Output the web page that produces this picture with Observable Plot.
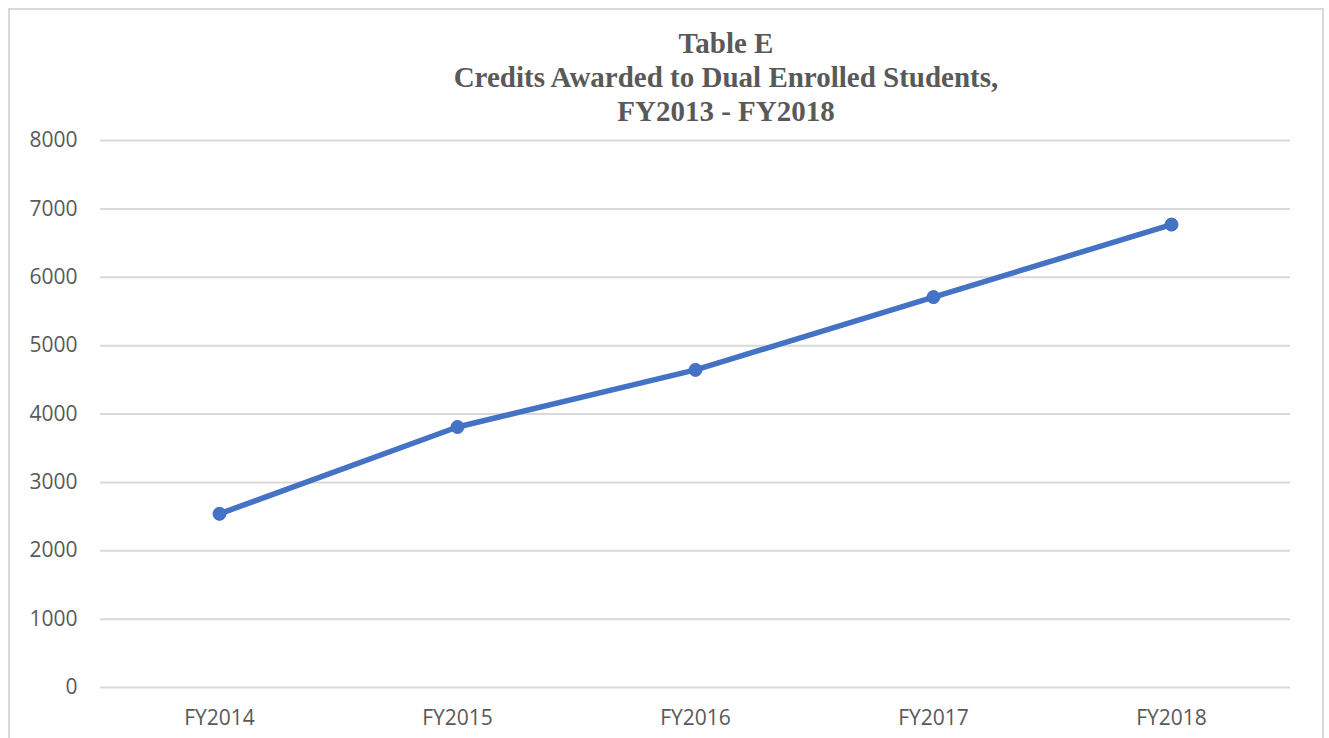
<!DOCTYPE html>
<html>
<head>
<meta charset="utf-8">
<script src="https://cdn.jsdelivr.net/npm/d3@7"></script>
<script src="https://cdn.jsdelivr.net/npm/@observablehq/plot@0.6"></script>
<style>
  html, body { margin: 0; padding: 0; background: #fff; width: 1329px; height: 738px; overflow: hidden; }
  #frame { position: absolute; left: 8px; top: 8px; width: 1316px; height: 760px; border: 2px solid #d9d9d9; box-sizing: border-box; }
  #title { position: absolute; left: 376px; width: 700px; top: 26px; text-align: center;
    font-family: "Liberation Serif", "Times New Roman", serif; font-weight: bold; font-size: 29px;
    line-height: 34px; color: #595959; }
  #chart { position: absolute; left: 0; top: 0; }
</style>
</head>
<body>
<div id="frame"></div>
<div id="chart"></div>
<div id="title">Table E<br>Credits Awarded to Dual Enrolled Students,<br>FY2013 - FY2018</div>
<script>
const years = ["FY2014", "FY2015", "FY2016", "FY2017", "FY2018"];
const credits = [2540, 3810, 4645, 5710, 6770];
const yTicks = [0, 1000, 2000, 3000, 4000, 5000, 6000, 7000, 8000];

const data = years.map((y, i) => ({year: y, value: credits[i]}));

const chart = Plot.plot({
  width: 1329,
  height: 738,
  marginTop: 140,
  marginBottom: 51,
  marginLeft: 100,
  marginRight: 39,
  style: {fontFamily: "'Open Sans', 'Noto Sans', sans-serif", fontSize: "21px", color: "#595959", background: "transparent"},
  x: {type: "point", domain: years, padding: 0.5, label: null},
  y: {domain: [0, 8000], label: null},
  marks: [
    Plot.gridY(yTicks, {stroke: "#d9d9d9", strokeOpacity: 1, strokeWidth: 2}),
    Plot.axisY(yTicks, {tickSize: 0, tickPadding: 23, label: null, fill: "#595959", fontSize: 21, tickFormat: d => String(d)}),
    Plot.axisX({tickSize: 0, tickPadding: 23, label: null, fill: "#595959", fontSize: 21}),
    Plot.line(data, {x: "year", y: "value", stroke: "#4472c4", strokeWidth: 5.5}),
    Plot.dot(data, {x: "year", y: "value", r: 6.5, fill: "#4472c4", stroke: "#3f6fbf", strokeWidth: 1})
  ]
});
document.getElementById("chart").appendChild(chart);
</script>
</body>
</html>
